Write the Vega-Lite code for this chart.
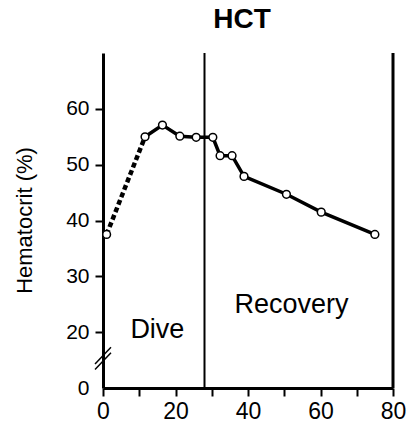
{
  "$schema": "https://vega.github.io/schema/vega-lite/v6.json",
  "autosize": "none",
  "width": 290,
  "height": 335,
  "padding": {"left": 103, "top": 53, "right": 16, "bottom": 38},
  "background": "white",
  "title": {
    "text": "HCT",
    "font": "Liberation Sans",
    "fontSize": 28,
    "fontWeight": "bold",
    "color": "black",
    "anchor": "middle",
    "dx": -6,
    "offset": 18
  },
  "config": {
    "view": {"stroke": null},
    "axis": {
      "grid": false,
      "domainColor": "black",
      "domainWidth": 3,
      "domainOpacity": 1,
      "tickColor": "black",
      "tickWidth": 2,
      "tickSize": 8,
      "labelColor": "black",
      "titleColor": "black",
      "labelFont": "Liberation Sans",
      "titleFont": "Liberation Sans",
      "titleFontWeight": "normal"
    }
  },
  "datasets": {
    "hct": [
      {"time": 1, "hct": 37.5},
      {"time": 11.6, "hct": 55.0},
      {"time": 16.4, "hct": 57.1},
      {"time": 21.2, "hct": 55.1},
      {"time": 25.7, "hct": 54.9},
      {"time": 30.3, "hct": 54.9},
      {"time": 32.3, "hct": 51.6},
      {"time": 35.6, "hct": 51.6},
      {"time": 38.9, "hct": 47.9},
      {"time": 50.6, "hct": 44.7},
      {"time": 60.2, "hct": 41.5},
      {"time": 75, "hct": 37.5}
    ],
    "dashed": [
      {"time": 1, "hct": 37.5},
      {"time": 11.6, "hct": 55.0}
    ],
    "phases": [
      {"boundary": 28},
      {"boundary": 80}
    ],
    "labels": [
      {"time": 15, "hct": 20.4, "label": "Dive"},
      {"time": 52, "hct": 24.8, "label": "Recovery"}
    ],
    "breaks": [
      {"x1": -2.2, "x2": 2.2, "y1": 13.3, "y2": 16.3},
      {"x1": -2.2, "x2": 2.2, "y1": 14.3, "y2": 17.3}
    ]
  },
  "encoding": {
    "x": {
      "type": "quantitative",
      "scale": {"domain": [0, 80], "nice": false},
      "axis": {
        "title": null,
        "values": [0, 10, 20, 30, 40, 50, 60, 70, 80],
        "labelExpr": "datum.value % 20 == 0 ? datum.label : ''",
        "domainWidth": 3,
        "domainColor": "black",
        "labelFontSize": 23,
        "labelPadding": 4,
        "labelFlush": false
      }
    },
    "y": {
      "type": "quantitative",
      "scale": {"domain": [10, 70], "nice": false, "zero": false},
      "axis": {
        "title": "Hematocrit (%)",
        "values": [10, 20, 30, 40, 50, 60],
        "labelExpr": "datum.value == 10 ? '0' : datum.label",
        "tickOpacity": {"condition": {"test": "datum.value == 10", "value": 0}, "value": 1},
        "domainWidth": 3,
        "domainColor": "black",
        "labelFontSize": 21,
        "labelPadding": 6,
        "titleFontSize": 22,
        "titleX": -79,
        "titleY": 167,
        "titleAngle": -90,
        "titleAlign": "center",
        "titleBaseline": "middle"
      }
    }
  },
  "layer": [
    {
      "data": {"name": "hct"},
      "mark": {"type": "point", "opacity": 0},
      "encoding": {
        "x": {"field": "time"},
        "y": {"field": "hct"}
      }
    },
    {
      "data": {"name": "phases"},
      "mark": {"type": "rule", "color": "black"},
      "encoding": {
        "x": {"field": "boundary"},
        "y": null,
        "strokeWidth": {"condition": {"test": "datum.boundary == 80", "value": 3}, "value": 2}
      }
    },
    {
      "data": {"name": "breaks"},
      "mark": {"type": "rule", "color": "black", "strokeWidth": 1.5, "clip": false},
      "encoding": {
        "x": {"field": "x1"},
        "x2": {"field": "x2"},
        "y": {"field": "y1"},
        "y2": {"field": "y2"}
      }
    },
    {
      "data": {"name": "dashed"},
      "mark": {"type": "line", "color": "black", "strokeWidth": 4.5, "strokeDash": [5, 3]},
      "encoding": {
        "x": {"field": "time"},
        "y": {"field": "hct"}
      }
    },
    {
      "data": {"name": "hct"},
      "transform": [{"filter": "datum.time > 5"}],
      "mark": {"type": "line", "color": "black", "strokeWidth": 3.5},
      "encoding": {
        "x": {"field": "time"},
        "y": {"field": "hct"}
      }
    },
    {
      "data": {"name": "hct"},
      "mark": {"type": "point", "shape": "circle", "filled": false, "fill": "white", "stroke": "black", "strokeWidth": 1.5, "size": 60, "opacity": 1},
      "encoding": {
        "x": {"field": "time"},
        "y": {"field": "hct"}
      }
    },
    {
      "data": {"name": "labels"},
      "mark": {"type": "text", "font": "Liberation Sans", "fontSize": 27, "color": "black", "align": "center", "baseline": "middle"},
      "encoding": {
        "x": {"field": "time"},
        "y": {"field": "hct"},
        "text": {"field": "label"}
      }
    }
  ]
}
